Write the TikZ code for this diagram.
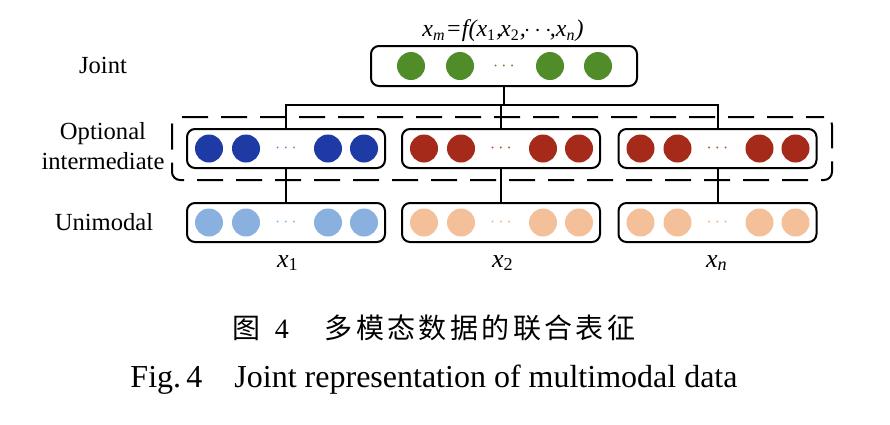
\documentclass[tikz,border=0pt]{standalone}
\usepackage{fontspec}
\setmainfont{Liberation Serif}
\newfontfamily\cjk[LetterSpace=12]{Noto Sans CJK SC}
\usepackage{xcolor}
\usepackage{tikz}
\usetikzlibrary{shapes}
\definecolor{jointgreen}{RGB}{80,140,40}
\definecolor{midblue}{RGB}{30,58,165}
\definecolor{midred}{RGB}{165,42,26}
\definecolor{uniblue}{RGB}{138,176,224}
\definecolor{unipeach}{RGB}{244,192,154}
\tikzstyle{box} = [rectangle, draw, line width=1pt, rounded corners=4pt, minimum width=99pt, minimum height=19.5pt]
\tikzstyle{bead} = [circle, minimum size=14pt, inner sep=0pt]
\tikzstyle{ellip} = [inner sep=0pt, font=\small]
\tikzstyle{group} = [rectangle, draw, line width=1pt, dash pattern=on 13pt off 6.5pt, dash phase=4pt, rounded corners=4pt, minimum width=330pt, minimum height=31.5pt]
\tikzstyle{level} = [align=center, font=\fontsize{12.3}{15}\selectfont]
\tikzstyle{line} = [draw, line width=1pt]

\begin{document}
\begin{tikzpicture}[x=0.5pt, y=-0.5pt]
\useasboundingbox (0,0) rectangle (890,424);

\node [level] (ljoint) at (103,65) {Joint};
\node [level] (lopt) at (103,146) {Optional\\intermediate};
\node [level] (luni) at (104,222) {Unimodal};

\node [group] (opt) at (502,148.5) {};

\node [box, minimum width=133pt, minimum height=20pt] (joint) at (504,66) {};
\node [level, font=\fontsize{12}{15}\selectfont\itshape] (fx) at (503,31)
  {x\textsubscript{m}=f(x\textsubscript{\upshape 1},\kern-1pt x\textsubscript{\upshape 2},\kern-1pt$\cdots$\kern-1pt,x\textsubscript{n})};

\node [box] (mid1) at (286,148.5) {};
\node [box] (mid2) at (501,148.5) {};
\node [box] (mid3) at (717.5,148.5) {};

\node [box] (uni1) at (286,222.5) {};
\node [box] (uni2) at (501,222.5) {};
\node [box] (uni3) at (717.5,222.5) {};

\foreach \dx [count=\i] in {-93,-44,46,94}
  \node [bead, fill=jointgreen] (joint-\i) at ([xshift=\dx*0.5pt]joint.center) {};
\node [ellip, text=jointgreen] (joint-dots) at (joint.center) {$\cdots$};

\foreach \row/\col/\dcol in {mid1/midblue/uniblue!70!midblue, mid2/midred/midred!70!orange, mid3/midred/midred!70!orange,
                             uni1/uniblue/uniblue, uni2/unipeach/unipeach!75!orange, uni3/unipeach/unipeach!75!orange} {
  \foreach \dx [count=\i] in {-77,-40,42,78}
    \node [bead, fill=\col] (\row-\i) at ([xshift=\dx*0.5pt]\row.center) {};
  \node [ellip, text=\dcol] (\row-dots) at (\row.center) {$\cdots$};
}

\path [line] (joint.south) -- ++(0,18) -| (mid1.north);
\path [line] (joint.south) -- ++(0,18) -| (mid2.north);
\path [line] (joint.south) -- ++(0,18) -| (mid3.north);

\path [line] (mid1) -- (uni1);
\path [line] (mid2) -- (uni2);
\path [line] (mid3) -- (uni3);

\node [level, font=\fontsize{13}{15}\selectfont\itshape] (x1) at (288,263) {x\textsubscript{\upshape 1}};
\node [level, font=\fontsize{13}{15}\selectfont\itshape] (x2) at (503,263) {x\textsubscript{\upshape 2}};
\node [level, font=\fontsize{13}{15}\selectfont\itshape] (xn) at (717,263) {x\textsubscript{n}};

\node [font=\fontsize{14}{16}\selectfont] (capcn) at (434,328) {{\cjk 图}\hspace{7pt}4\hspace{18pt}{\cjk 多模态数据的联合表征}};
\node [font=\fontsize{16}{18}\selectfont] (capen) at (434,380) {Fig.\,4\hspace{16pt}Joint representation of multimodal data};

\end{tikzpicture}
\end{document}
